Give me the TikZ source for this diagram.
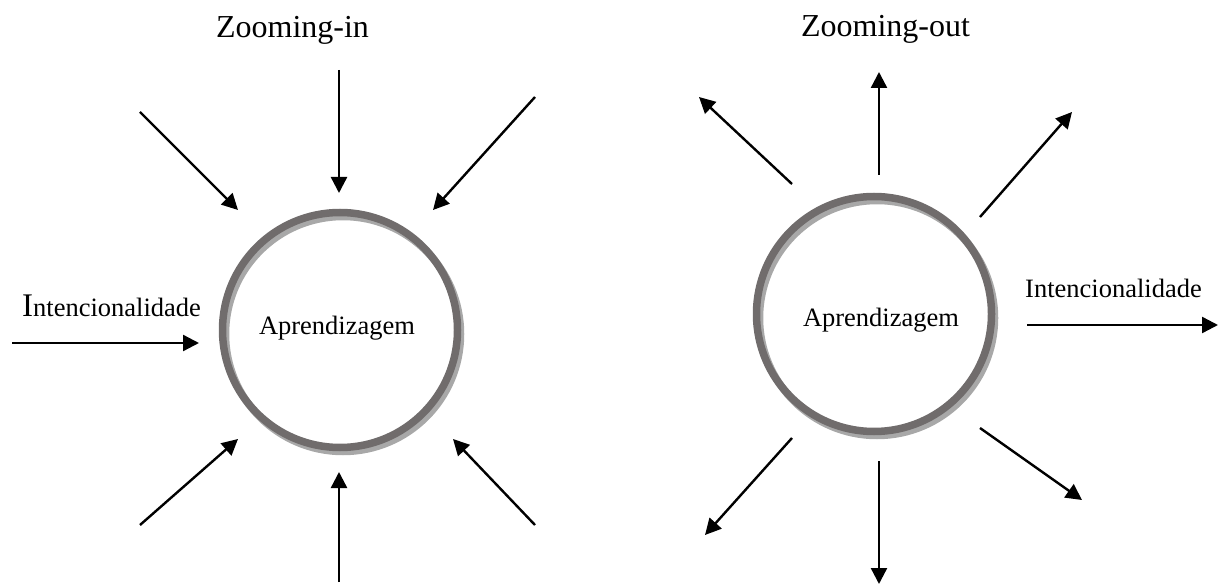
\documentclass[tikz,border=0pt]{standalone}
\usepackage{fontspec}
\setmainfont{Liberation Serif}
\usetikzlibrary{arrows.meta}
\definecolor{ringdark}{HTML}{706C6C}
\definecolor{ringlight}{HTML}{A8A8A8}
\begin{document}
\begin{tikzpicture}[x=1pt,y=-1pt,
  ring/.style={circle,draw=ringdark,line width=7.5pt,minimum size=235pt,inner sep=0pt},
  ringshadow/.style={circle,draw=ringlight,line width=7.5pt,minimum size=235pt,inner sep=0pt},
  arr/.style={line width=2.4pt,-{Triangle[length=16pt,width=16pt]}},
  txt/.style={inner sep=0pt,font=\fontsize{26.5}{30}\selectfont},
  big/.style={inner sep=0pt,font=\fontsize{32}{36}\selectfont}]
\useasboundingbox (0,0) rectangle (1219,585);
% left circle
\node[ringshadow] (s1) at (343,334) {};
\node[ring] (c1) at (340,330) {};
\node[txt,anchor=base] (t1) at (337,335) {Aprendizagem};
% right circle
\node[ringshadow] (s2) at (877,318) {};
\node[ring] (c2) at (874,314) {};
\node[txt,anchor=base] (t2) at (881,327) {Aprendizagem};
% titles
\node[big,anchor=base] (zin) at (292.5,38) {Zooming-in};
\node[big,anchor=base] (zout) at (885.5,37) {Zooming-out};
\node[txt,anchor=base west] (il) at (22,317) {{\fontsize{33}{36}\selectfont I}ntencionalidade};
\node[txt,anchor=base west] (ir) at (1025,298) {Intencionalidade};
% left arrows coordinates
\coordinate (a1s) at (339,70);  \coordinate (a1e) at (339,193);
\coordinate (a2s) at (140,112); \coordinate (a2e) at (238,210);
\coordinate (a3s) at (535,97);  \coordinate (a3e) at (433,210);
\coordinate (a4s) at (12,343);  \coordinate (a4e) at (199,343);
\coordinate (a5s) at (140,525); \coordinate (a5e) at (238,439);
\coordinate (a6s) at (339,582); \coordinate (a6e) at (339,472);
\coordinate (a7s) at (535,525); \coordinate (a7e) at (453,439);
\foreach \i in {1,...,7} \draw[arr] (a\i s) -- (a\i e);
% right arrows coordinates
\coordinate (b1s) at (879,175); \coordinate (b1e) at (879,72);
\coordinate (b2s) at (792,184); \coordinate (b2e) at (699,97);
\coordinate (b3s) at (980,217); \coordinate (b3e) at (1072,112);
\coordinate (b4s) at (1027,325); \coordinate (b4e) at (1218,325);
\coordinate (b5s) at (792,438); \coordinate (b5e) at (705,535);
\coordinate (b6s) at (879,461); \coordinate (b6e) at (879,584);
\coordinate (b7s) at (980,428); \coordinate (b7e) at (1082,500);
\foreach \i in {1,...,7} \draw[arr] (b\i s) -- (b\i e);
\end{tikzpicture}
\end{document}
